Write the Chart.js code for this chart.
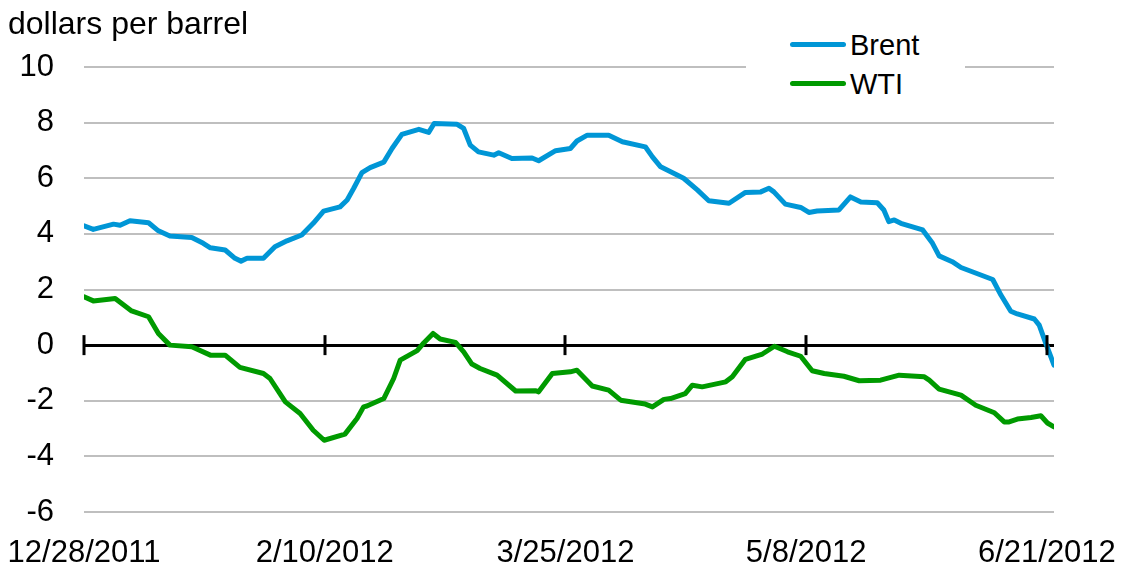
<!DOCTYPE html>
<html>
<head>
<meta charset="utf-8">
<script src="https://cdn.jsdelivr.net/npm/chart.js@4"></script>
<style>
  body { margin: 0; background: #fff; }
  #wrap { position: relative; width: 1123px; height: 567px; font-family: "Liberation Sans", Arial, sans-serif; }
  #title { position: absolute; left: 8px; top: 5px; font-size: 32px; line-height: 36px; color: #000; }
  #legend { position: absolute; left: 746px; top: 26px; width: 219px; height: 76px; background: #fff; }
  .row { position: absolute; left: 44px; height: 34px; font-size: 29px; line-height: 34px; color: #000; }
  .sw { position: absolute; left: 0; top: 14px; width: 56px; height: 5px; border-radius: 3px; }
  .lbl { position: absolute; left: 60px; top: 0; white-space: nowrap; }
</style>
</head>
<body>
<div id="wrap">
  <canvas id="chart" width="1123" height="567"></canvas>
  <div id="title">dollars per barrel</div>
  <div id="legend">
    <div class="row" style="top:2px"><span class="sw" style="background:#0096d6"></span><span class="lbl">Brent</span></div>
    <div class="row" style="top:41px"><span class="sw" style="background:#009a00"></span><span class="lbl">WTI</span></div>
  </div>
</div>
<script>
// x = days since 12/28/2011
const dateLabels = ["12/28/2011", "2/10/2012", "3/25/2012", "5/8/2012", "6/21/2012"];
const tickDays = [0, 44, 88, 132, 176];
const yTicks = [-6, -4, -2, 0, 2, 4, 6, 8, 10];

const brentDays = [0, 1.7, 5.4, 6.6, 8.4, 11.8, 13.6, 15.7, 19.7, 21.8, 23.1, 25.8, 27.6, 28.7, 29.8, 32.8, 34.9, 37.1, 39.8, 41.9,
  43.8, 46.8, 48.1, 49.3, 50.8, 52.3, 54.8, 56.3, 58.1, 61.2, 63.0, 64.0, 68.2, 69.4, 70.6, 72.1, 74.9, 75.8, 78.2, 81.9,
  83.1, 86.2, 88.9, 90.1, 92.0, 95.9, 98.4, 102.6, 103.9, 105.4, 109.6, 112.1, 114.2, 117.9, 120.9, 123.7, 125.2, 126.1, 128.2, 131.0,
  132.5, 134.0, 138.0, 140.1, 142.0, 145.0, 146.2, 147.1, 148.1, 149.3, 153.3, 155.1, 156.3, 158.7, 160.3, 166.1, 167.6, 169.4, 170.6, 173.7,
  174.6, 175.8, 177.3];
const brentValues = [4.29, 4.16, 4.35, 4.31, 4.47, 4.40, 4.11, 3.92, 3.87, 3.66, 3.50, 3.42, 3.12, 3.02, 3.12, 3.12, 3.54, 3.75, 3.96, 4.38,
  4.82, 4.97, 5.22, 5.64, 6.20, 6.38, 6.58, 7.07, 7.58, 7.76, 7.65, 7.97, 7.94, 7.79, 7.19, 6.95, 6.83, 6.92, 6.71, 6.73,
  6.63, 6.99, 7.07, 7.34, 7.55, 7.55, 7.31, 7.13, 6.77, 6.41, 6.00, 5.58, 5.19, 5.10, 5.49, 5.51, 5.64, 5.51, 5.07, 4.95,
  4.77, 4.82, 4.86, 5.33, 5.15, 5.12, 4.86, 4.44, 4.50, 4.38, 4.14, 3.66, 3.21, 3.00, 2.79, 2.36, 1.80, 1.22, 1.12, 0.94,
  0.72, 0.06, -0.72];

const wtiDays = [0, 1.7, 5.7, 6.9, 8.7, 11.8, 13.6, 15.7, 19.7, 23.1, 25.8, 28.5, 32.8, 34.0, 36.8, 39.5, 41.9, 43.9, 47.7, 49.9,
  51.1, 51.7, 54.8, 56.6, 57.8, 60.9, 62.1, 63.8, 65.1, 67.9, 69.4, 70.9, 72.4, 75.5, 78.9, 82.5, 83.1, 85.6, 88.9, 90.1,
  92.9, 95.9, 98.1, 102.6, 103.9, 106.0, 107.2, 109.9, 111.2, 113.0, 117.3, 118.5, 120.9, 124.0, 126.2, 128.6, 131.0, 133.1, 135.3, 138.9,
  141.7, 145.6, 149.0, 153.6, 154.5, 156.3, 160.3, 163.0, 166.4, 168.2, 169.1, 170.6, 173.1, 174.9, 176.1, 177.3];
const wtiValues = [1.74, 1.59, 1.68, 1.50, 1.23, 1.02, 0.42, 0.00, -0.06, -0.36, -0.36, -0.80, -1.02, -1.20, -2.04, -2.46, -3.06, -3.42, -3.20, -2.64,
  -2.22, -2.19, -1.92, -1.20, -0.54, -0.20, 0.08, 0.42, 0.22, 0.10, -0.24, -0.68, -0.84, -1.08, -1.65, -1.64, -1.68, -1.02, -0.96, -0.90,
  -1.47, -1.62, -1.98, -2.12, -2.22, -1.95, -1.92, -1.74, -1.44, -1.50, -1.32, -1.14, -0.51, -0.32, -0.04, -0.24, -0.40, -0.92, -1.02, -1.12,
  -1.28, -1.26, -1.08, -1.14, -1.26, -1.58, -1.80, -2.16, -2.43, -2.76, -2.76, -2.66, -2.60, -2.54, -2.80, -2.94];

function toPoints(xs, ys) {
  return xs.map((x, i) => ({ x: x, y: ys[i] }));
}

// little cross ticks on the zero line
const zeroTicks = {
  id: "zeroTicks",
  afterDatasetsDraw(chart) {
    const ctx = chart.ctx;
    const xs = chart.scales.x;
    const y0 = chart.scales.y.getPixelForValue(0);
    ctx.save();
    ctx.strokeStyle = "#000";
    ctx.lineWidth = 3;
    tickDays.forEach(d => {
      const px = Math.round(xs.getPixelForValue(d));
      ctx.beginPath();
      ctx.moveTo(px, y0 - 10);
      ctx.lineTo(px, y0 + 10);
      ctx.stroke();
    });
    ctx.restore();
  }
};

const font = { family: "'Liberation Sans', Arial, sans-serif", size: 31 };

new Chart(document.getElementById("chart"), {
  type: "line",
  data: {
    datasets: [
      { label: "Brent", data: toPoints(brentDays, brentValues), borderColor: "#0096d6", borderWidth: 5, pointRadius: 0, tension: 0, borderJoinStyle: "round", borderCapStyle: "round" },
      { label: "WTI", data: toPoints(wtiDays, wtiValues), borderColor: "#009a00", borderWidth: 5, pointRadius: 0, tension: 0, borderJoinStyle: "round", borderCapStyle: "round" }
    ]
  },
  options: {
    responsive: false,
    animation: false,
    layout: { padding: { top: 67, right: 69, left: 0, bottom: 0 } },
    plugins: { legend: { display: false }, tooltip: { enabled: false } },
    scales: {
      x: {
        type: "linear",
        min: 0,
        max: 177.3,
        afterBuildTicks: axis => { axis.ticks = tickDays.map(v => ({ value: v })); },
        afterFit: axis => {
          axis.height = 55;
          axis.paddingLeft = 0;
          axis.paddingRight = 0;
        },
        grid: { display: false },
        border: { display: false },
        ticks: {
          font: font,
          color: "#000",
          padding: 15,
          maxRotation: 0,
          autoSkip: false,
          callback: (v) => dateLabels[tickDays.indexOf(v)]
        }
      },
      y: {
        min: -6,
        max: 10,
        afterBuildTicks: axis => { axis.ticks = yTicks.map(v => ({ value: v })); },
        afterFit: axis => { axis.width = 84; },
        border: { display: false },
        grid: {
          drawTicks: false,
          color: c => c.tick.value === 0 ? "#000" : "#bfbfbf",
          lineWidth: c => c.tick.value === 0 ? 3 : 2
        },
        ticks: { font: font, color: "#000", padding: 30 }
      }
    }
  },
  plugins: [zeroTicks]
});
</script>
</body>
</html>
